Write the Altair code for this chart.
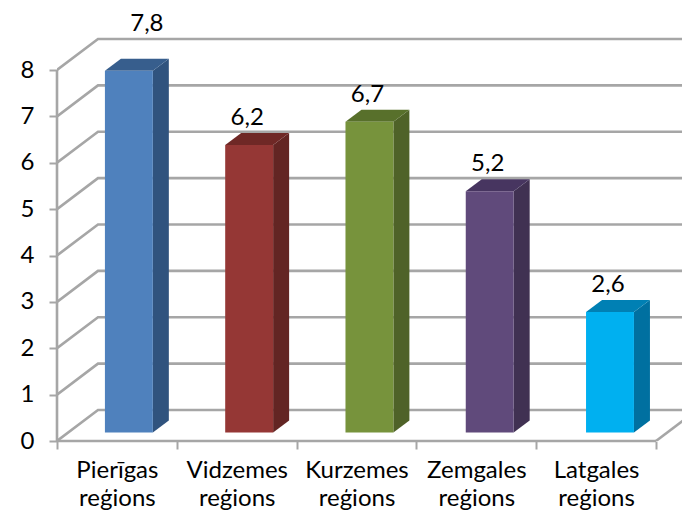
import altair as alt
import pandas as pd

categories = ["Pierīgas reģions", "Vidzemes reģions", "Kurzemes reģions", "Zemgales reģions", "Latgales reģions"]
values = [7.8, 6.2, 6.7, 5.2, 2.6]
value_labels = ["7,8", "6,2", "6,7", "5,2", "2,6"]
front_colors = ["#4F81BD", "#953735", "#77933C", "#604A7B", "#00B0F0"]
top_colors = ["#375E8D", "#6F2826", "#58702B", "#473560", "#0080B4"]
side_colors = ["#30537E", "#632523", "#4F6228", "#403152", "#0070A0"]
y_ticks = list(range(9))

X_MAX = 625 / 119.8
Y_MAX = 433 / 46.375
WALL_DX, WALL_DY = 41 / 119.8, 31 / 46.375
BAR_X, BAR_W, BAR_STEP = 0.40, 0.40, 1.004
BAR_BASE = 8.5 / 46.375
BAR_DX, BAR_DY = 16 / 119.8, 12 / 46.375
GRID = "#A6A6A6"
FONT = "Lato"

xs = alt.Scale(domain=[0, X_MAX], nice=False, zero=False)
ys = alt.Scale(domain=[0, Y_MAX], nice=False, zero=False)

x_ticks = [i / 2 for i in range(11)]
label_expr = "datum.value % 1 != 0 ? split(['" + "','".join(categories) + "'][floor(datum.value)], ' ') : ''"
X_AXIS = alt.Axis(
    values=x_ticks, labelExpr=label_expr, domain=False, grid=False, title=None,
    tickSize=8, tickWidth=2, tickColor=GRID,
    tickOpacity={"condition": {"test": "datum.value % 1 == 0", "value": 1}, "value": 0},
    labelFont=FONT, labelFontSize=24, labelColor="#000000", labelPadding=9,
    labelLineHeight=28, labelOverlap=False, labelFlush=False, labelBound=False)
Y_AXIS = alt.Axis(
    values=y_ticks, domain=False, grid=False, title=None, tickSize=8, tickWidth=2, tickColor=GRID,
    labelFont=FONT, labelFontSize=24, labelColor="#000000", labelPadding=15, format="d")
X = lambda: alt.X("x:Q", scale=xs, axis=X_AXIS)
Y = lambda: alt.Y("y:Q", scale=ys, axis=Y_AXIS)

# walls and floor
wall_rows = []
for v in y_ticks:
    wall_rows += [
        {"id": f"d{v}", "x": 0, "y": v},
        {"id": f"d{v}", "x": WALL_DX, "y": v + WALL_DY},
        {"id": f"d{v}", "x": X_MAX, "y": v + WALL_DY},
    ]
wall_rows += [
    {"id": "fr", "x": 5, "y": 0},
    {"id": "fr", "x": 5 + WALL_DX, "y": WALL_DY},
]
walls = pd.DataFrame(wall_rows)

frame = pd.DataFrame([
    {"id": "yline", "x": 0, "y": 0},
    {"id": "yline", "x": 0, "y": 8},
    {"id": "xline", "x": 0, "y": 0},
    {"id": "xline", "x": 5, "y": 0},
])

wall_layer = alt.Chart(walls).mark_line(color=GRID, strokeWidth=2.6, clip=True).encode(
    x=X(), y=Y(), detail="id:N")

frame_layer = alt.Chart(frame).mark_line(color=GRID, strokeWidth=2.6).encode(
    x=X(), y=Y(), detail="id:N")

# bars
fronts, faces, labels = [], [], []
for i, v in enumerate(values):
    x0 = i * BAR_STEP + BAR_X
    x1 = x0 + BAR_W
    b = BAR_BASE
    t = b + v
    fronts.append({"x": x0, "x2": x1, "y": b, "y2": t, "fill": front_colors[i]})
    for x, y, y2 in [(x1, t, b), (x1 + BAR_DX, t + BAR_DY, b + BAR_DY)]:
        faces.append({"id": f"s{i}", "x": x, "y": y, "y2": y2, "fill": side_colors[i]})
    for x, y, y2 in [(x0, t, t), (x0 + BAR_DX, t + BAR_DY, t), (x1, t + BAR_DY, t),
                     (x1 + BAR_DX, t + BAR_DY, t + BAR_DY)]:
        faces.append({"id": f"t{i}", "x": x, "y": y, "y2": y2, "fill": top_colors[i]})
    # the first label was dragged away from its bar in the original
    nudge_x, nudge_y = (18 / 119.8, 20 / 46.375) if i == 0 else (-2 / 119.8, 0)
    labels.append({"x": x0 + BAR_W / 2 + nudge_x, "y": t + BAR_DY + nudge_y, "text": value_labels[i]})

front_layer = alt.Chart(pd.DataFrame(fronts)).mark_rect().encode(
    x=X(), x2="x2:Q", y=Y(), y2="y2:Q",
    color=alt.Color("fill:N", scale=None))

face_layer = alt.Chart(pd.DataFrame(faces)).mark_area(interpolate="linear").encode(
    x=X(), y=Y(), y2="y2:Q",
    color=alt.Color("fill:N", scale=None), detail="id:N")

label_layer = alt.Chart(pd.DataFrame(labels)).mark_text(
    font=FONT, fontSize=24, color="#000000", baseline="alphabetic", dy=-8).encode(
    x=X(), y=Y(), text="text:N")

chart = alt.layer(wall_layer, frame_layer, face_layer, front_layer, label_layer).properties(
    width=625, height=433,
    autosize=alt.AutoSizeParams(type="none"),
    padding={"left": 49, "top": 0, "right": 0, "bottom": 70},
    background="#FFFFFF",
).configure_view(stroke=None)

chart.save("out.html", embed_options={"renderer": "svg", "actions": False})
